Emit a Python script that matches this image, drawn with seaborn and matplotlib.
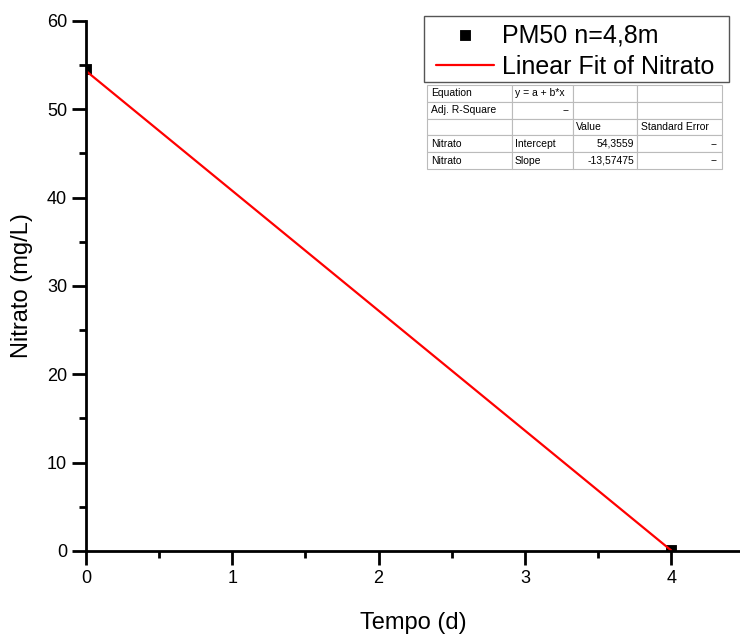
import numpy as np
import pandas as pd
import seaborn as sns
import matplotlib.pyplot as plt
from matplotlib.patches import Rectangle
from matplotlib.ticker import MultipleLocator

# measured data
tempo = [0, 4]
nitrato = [54.6, 0.15]

# linear fit results
intercept = 54.3559
slope = -13.57475

table_rows = [
    ["Equation", "y = a + b*x", "", ""],
    ["Adj. R-Square", "--", "", ""],
    ["", "", "Value", "Standard Error"],
    ["Nitrato", "Intercept", "54,3559", "--"],
    ["Nitrato", "Slope", "-13,57475", "--"],
]

sns.set_style("ticks", {"axes.edgecolor": "black", "xtick.color": "black",
                        "ytick.color": "black", "text.color": "black",
                        "axes.labelcolor": "black"})
plt.rcParams["font.family"] = ["Liberation Sans", "DejaVu Sans"]

W, H = 740, 634
fig = plt.figure(figsize=(7.4, 6.34), dpi=100)
ax = fig.add_axes([0.116, 0.131, 0.884, 0.836])

df = pd.DataFrame({"Tempo": tempo, "Nitrato": nitrato})
fit_x = np.array([0, 4])
fit = pd.DataFrame({"Tempo": fit_x, "Nitrato": intercept + slope * fit_x})

sns.lineplot(data=fit, x="Tempo", y="Nitrato", color="red", linewidth=1.6,
             ax=ax, label="Linear Fit of Nitrato", zorder=3)
sns.scatterplot(data=df, x="Tempo", y="Nitrato", marker="s", color="black",
                s=60, edgecolor="black", ax=ax, label="PM50 n=4,8m", zorder=2)

ax.set_xlim(0, 4.47)
ax.set_ylim(0, 60)
ax.xaxis.set_major_locator(MultipleLocator(1))
ax.xaxis.set_minor_locator(MultipleLocator(0.5))
ax.yaxis.set_major_locator(MultipleLocator(10))
ax.yaxis.set_minor_locator(MultipleLocator(5))
ax.tick_params(which="major", length=10, width=2, labelsize=13, direction="out",
               colors="black")
ax.tick_params(which="minor", length=5, width=2, direction="out")
sns.despine(ax=ax)
for sp in ["left", "bottom"]:
    ax.spines[sp].set_linewidth(2)
    ax.spines[sp].set_zorder(4)

ax.set_xlabel("Tempo (d)", fontsize=17, labelpad=18, color="black")
ax.set_ylabel("Nitrato (mg/L)", fontsize=17, labelpad=10, color="black")

# legend without its own frame, the box is drawn separately
handles, labels = ax.get_legend_handles_labels()
order = [labels.index("PM50 n=4,8m"), labels.index("Linear Fit of Nitrato")]
leg = ax.legend([handles[i] for i in order], [labels[i] for i in order],
                loc="upper left", bbox_to_anchor=(436 / W, 1 - 23 / H),
                bbox_transform=fig.transFigure, fontsize=18, frameon=False,
                borderpad=0, handlelength=2.3, handletextpad=0.32,
                labelspacing=0.32, borderaxespad=0)
leg.set_zorder(6)
for t in leg.get_texts():
    t.set_color("black")
ax.add_patch(Rectangle((424 / W, 1 - 82 / H), 305 / W, 66 / H,
                       transform=fig.transFigure, fill=True, clip_on=False,
                       facecolor="white", edgecolor="#555555",
                       linewidth=1, zorder=5))

tbl = ax.table(cellText=table_rows, cellLoc="left",
               colWidths=[85, 61, 64, 85],
               bbox=[427 / W, 1 - 169 / H, 295 / W, 84 / H],
               transform=fig.transFigure)
tbl.auto_set_font_size(False)
tbl.set_fontsize(7.5)
for (r, c), cell in tbl.get_celld().items():
    cell.set_edgecolor("#bbbbbb")
    cell.set_linewidth(0.8)
    cell.PAD = 0.05
    if (r == 1 and c == 1) or (r >= 3 and c >= 2):
        cell.get_text().set_ha("right")
        cell._loc = "right"

fig.savefig("out.png", dpi=100)
